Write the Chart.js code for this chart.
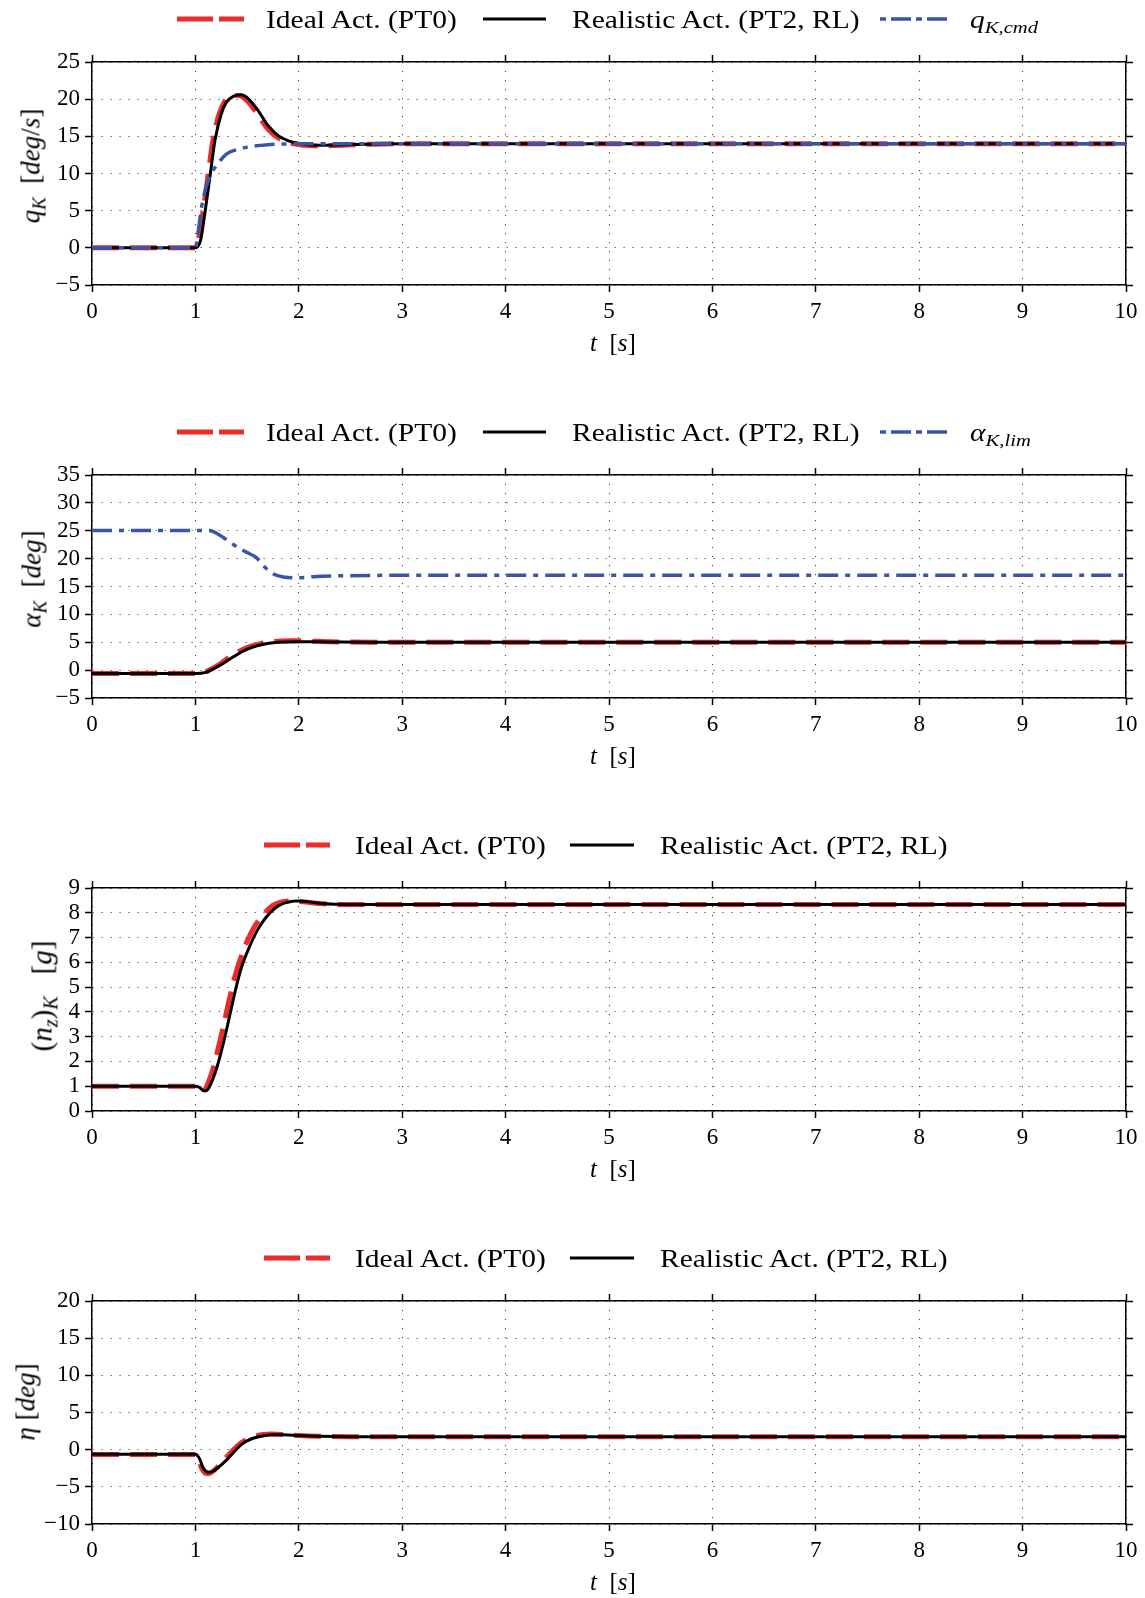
<!DOCTYPE html>
<html>
<head>
<meta charset="utf-8">
<script src="https://cdn.jsdelivr.net/npm/chart.js@4.4.1/dist/chart.umd.min.js"></script>
<style>
  body { margin: 0; background: #fff; }
  #page { position: relative; width: 1145px; height: 1598px; font-family: 'Liberation Serif', serif; color: #000; overflow: hidden; }
  canvas.panel { position: absolute; left: 0; }
  .leg { position: absolute; white-space: nowrap; font-size: 25px; line-height: 1; transform-origin: left center; transform: translateY(-50%) scaleX(1.18); }
  .sw { position: absolute; overflow: visible; }
  .ylab { position: absolute; white-space: nowrap; font-size: 27px; line-height: 1; transform: translate(-50%, -50%) rotate(-90deg); }
  .xlab { position: absolute; white-space: nowrap; font-size: 25px; line-height: 1; transform: translate(-50%, -50%); }
  sub { font-size: 0.7em; vertical-align: -0.3em; line-height: 0; }
  i { font-style: italic; }
</style>
</head>
<body>
<div id="page">
  <canvas class="panel" id="c1" width="1145" height="303" style="top:32px"></canvas>
  <canvas class="panel" id="c2" width="1145" height="303" style="top:445px"></canvas>
  <canvas class="panel" id="c3" width="1145" height="303" style="top:858px"></canvas>
  <canvas class="panel" id="c4" width="1145" height="303" style="top:1271px"></canvas>

  <!-- legends -->
  <svg class="sw" style="left:177px;top:14px" width="67" height="10"><line x1="0" y1="5" x2="67" y2="5" stroke="#ec2b2b" stroke-width="5" stroke-dasharray="36 6"/></svg>
  <div class="leg" style="left:266px;top:19px">Ideal Act. (PT0)</div>
  <svg class="sw" style="left:483px;top:14px" width="63" height="10"><line x1="0" y1="5" x2="63" y2="5" stroke="#000" stroke-width="3"/></svg>
  <div class="leg" style="left:572px;top:19px">Realistic Act. (PT2, RL)</div>
  <svg class="sw" style="left:880px;top:14px" width="67" height="10"><line x1="0" y1="5" x2="67" y2="5" stroke="#3b55a6" stroke-width="3.5" stroke-dasharray="6 5 20 5"/></svg>
  <div class="leg" style="left:970px;top:19px"><i>q</i><sub><i>K,cmd</i></sub></div>

  <svg class="sw" style="left:177px;top:427px" width="67" height="10"><line x1="0" y1="5" x2="67" y2="5" stroke="#ec2b2b" stroke-width="5" stroke-dasharray="36 6"/></svg>
  <div class="leg" style="left:266px;top:432px">Ideal Act. (PT0)</div>
  <svg class="sw" style="left:483px;top:427px" width="63" height="10"><line x1="0" y1="5" x2="63" y2="5" stroke="#000" stroke-width="3"/></svg>
  <div class="leg" style="left:572px;top:432px">Realistic Act. (PT2, RL)</div>
  <svg class="sw" style="left:880px;top:427px" width="67" height="10"><line x1="0" y1="5" x2="67" y2="5" stroke="#3b55a6" stroke-width="3.5" stroke-dasharray="6 5 20 5"/></svg>
  <div class="leg" style="left:970px;top:432px"><i>α</i><sub><i>K,lim</i></sub></div>

  <svg class="sw" style="left:264px;top:840px" width="66" height="10"><line x1="0" y1="5" x2="66" y2="5" stroke="#ec2b2b" stroke-width="5" stroke-dasharray="36 6"/></svg>
  <div class="leg" style="left:355px;top:845px">Ideal Act. (PT0)</div>
  <svg class="sw" style="left:570px;top:840px" width="64" height="10"><line x1="0" y1="5" x2="64" y2="5" stroke="#000" stroke-width="3"/></svg>
  <div class="leg" style="left:660px;top:845px">Realistic Act. (PT2, RL)</div>

  <svg class="sw" style="left:264px;top:1253px" width="66" height="10"><line x1="0" y1="5" x2="66" y2="5" stroke="#ec2b2b" stroke-width="5" stroke-dasharray="36 6"/></svg>
  <div class="leg" style="left:355px;top:1258px">Ideal Act. (PT0)</div>
  <svg class="sw" style="left:570px;top:1253px" width="64" height="10"><line x1="0" y1="5" x2="64" y2="5" stroke="#000" stroke-width="3"/></svg>
  <div class="leg" style="left:660px;top:1258px">Realistic Act. (PT2, RL)</div>

  <!-- axis titles -->
  <div class="ylab" style="left:31px;top:166px"><i>q</i><sub><i>K</i></sub>&nbsp;&nbsp;[<i>deg</i>/<i>s</i>]</div>
  <div class="ylab" style="left:32px;top:579px"><i>α</i><sub><i>K</i></sub>&nbsp;&nbsp;[<i>deg</i>]</div>
  <div class="ylab" style="left:42px;top:996px;font-size:29px">(<i>n</i><sub><i>z</i></sub>)<sub><i>K</i></sub>&nbsp;&nbsp;&nbsp;[<i>g</i>]</div>
  <div class="ylab" style="left:26px;top:1402px"><i>η</i>&nbsp;[<i>deg</i>]</div>

  <div class="xlab" style="left:613px;top:342px"><i>t</i>&nbsp;&nbsp;[<i>s</i>]</div>
  <div class="xlab" style="left:613px;top:755px"><i>t</i>&nbsp;&nbsp;[<i>s</i>]</div>
  <div class="xlab" style="left:613px;top:1168px"><i>t</i>&nbsp;&nbsp;[<i>s</i>]</div>
  <div class="xlab" style="left:613px;top:1581px"><i>t</i>&nbsp;&nbsp;[<i>s</i>]</div>
</div>

<script>
// time axis
const tRange = [0, 10, 1];

// panel 1: q_K [deg/s]
const qRange = [-5, 25, 5];
const tQIdeal = [0, 1.0, 1.03, 1.07, 1.12, 1.17, 1.23, 1.28, 1.35, 1.42, 1.5, 1.6, 1.7, 1.8, 1.9, 2.0, 2.1, 2.2, 2.4, 2.7, 3.0, 10];
const qIdeal  = [0, 0, 1.2, 4.5, 9.5, 14.5, 18.0, 19.6, 20.4, 20.5, 19.8, 18.0, 16.0, 14.8, 14.2, 13.9, 13.75, 13.7, 13.8, 13.95, 14.0, 14.0];
const tQReal  = [0, 1.0, 1.05, 1.09, 1.14, 1.19, 1.25, 1.3, 1.37, 1.44, 1.5, 1.6, 1.7, 1.8, 1.9, 2.0, 2.1, 2.2, 2.4, 2.7, 3.0, 10];
const qReal   = [0, 0, 1.0, 4.5, 9.5, 14.5, 18.0, 19.6, 20.4, 20.6, 20.2, 18.6, 16.5, 15.1, 14.4, 14.05, 13.85, 13.8, 13.85, 13.95, 14.0, 14.0];
const tQCmd   = [0, 1.0, 1.03, 1.06, 1.1, 1.15, 1.2, 1.3, 1.4, 1.5, 1.6, 1.7, 1.85, 2.0, 10];
const qCmd    = [0, 0, 2.5, 5.5, 8.0, 9.9, 11.0, 12.6, 13.2, 13.55, 13.75, 13.88, 13.97, 14.0, 14.0];

// panel 2: alpha_K [deg]
const aRange = [-5, 35, 5];
const tAIdeal = [0, 1.0, 1.08, 1.15, 1.23, 1.33, 1.43, 1.53, 1.63, 1.75, 1.9, 2.0, 2.3, 2.7, 10];
const aIdeal  = [-0.6, -0.6, -0.45, 0.15, 1.0, 2.35, 3.45, 4.25, 4.75, 5.1, 5.25, 5.25, 5.1, 5.0, 5.0];
const tAReal  = [0, 1.0, 1.1, 1.17, 1.25, 1.36, 1.45, 1.55, 1.65, 1.75, 1.85, 2.0, 2.3, 2.7, 10];
const aReal   = [-0.6, -0.6, -0.4, 0.2, 1.0, 2.3, 3.3, 4.1, 4.6, 4.9, 5.05, 5.1, 5.05, 5.0, 5.0];
const tALim   = [0, 1.14, 1.2, 1.27, 1.33, 1.43, 1.51, 1.58, 1.63, 1.67, 1.75, 1.85, 1.98, 2.17, 2.5, 3.0, 10];
const aLim    = [25.05, 25.05, 24.6, 23.8, 23.0, 21.8, 21.0, 20.3, 19.4, 18.5, 17.3, 16.7, 16.55, 16.8, 16.95, 17.0, 17.0];

// panel 3: (n_z)_K [g]
const nRange = [0, 9, 1];
const tNIdeal = [0, 1.0, 1.03, 1.06, 1.09, 1.13, 1.18, 1.23, 1.28, 1.33, 1.38, 1.44, 1.5, 1.58, 1.66, 1.75, 1.85, 1.95, 2.05, 2.2, 2.35, 2.6, 10];
const nIdeal  = [1.0, 1.0, 0.92, 0.8, 0.85, 1.2, 1.85, 2.7, 3.6, 4.55, 5.4, 6.2, 6.85, 7.5, 7.95, 8.3, 8.45, 8.48, 8.44, 8.37, 8.34, 8.33, 8.33];
const tNReal  = [0, 1.0, 1.04, 1.08, 1.11, 1.15, 1.2, 1.25, 1.3, 1.35, 1.4, 1.45, 1.52, 1.6, 1.68, 1.76, 1.85, 1.95, 2.0, 2.1, 2.2, 2.35, 2.6, 10];
const nReal   = [1.0, 1.0, 0.95, 0.82, 0.83, 1.1, 1.65, 2.4, 3.26, 4.2, 5.1, 5.85, 6.6, 7.3, 7.8, 8.15, 8.38, 8.47, 8.48, 8.44, 8.38, 8.34, 8.33, 8.33];

// panel 4: eta [deg]
const eRange = [-10, 20, 5];
const tEIdeal = [0, 1.0, 1.03, 1.06, 1.09, 1.12, 1.16, 1.21, 1.28, 1.36, 1.44, 1.54, 1.64, 1.74, 1.85, 2.0, 2.2, 2.5, 10];
const eIdeal  = [-0.65, -0.65, -1.4, -2.5, -3.1, -3.25, -3.0, -2.4, -1.3, -0.1, 0.9, 1.65, 2.0, 2.1, 2.05, 1.9, 1.8, 1.75, 1.75];
const tEReal  = [0, 1.0, 1.04, 1.07, 1.1, 1.13, 1.17, 1.22, 1.3, 1.38, 1.45, 1.55, 1.65, 1.75, 1.85, 2.0, 2.2, 2.5, 10];
const eReal   = [-0.6, -0.6, -1.2, -2.3, -2.9, -3.05, -2.9, -2.4, -1.4, -0.2, 0.75, 1.5, 1.85, 2.0, 2.0, 1.9, 1.8, 1.75, 1.75];

const RED = '#ec2b2b';
const BLACK = '#000000';
const BLUE = '#3b55a6';

function series(xs, ys, color, width, dash, order) {
    return {
        data: xs.map((x, i) => ({ x: x, y: ys[i] })),
        borderColor: color,
        borderWidth: width,
        borderDash: dash,
        borderCapStyle: 'butt',
        cubicInterpolationMode: 'monotone',
        pointRadius: 0,
        fill: false,
        order: order
    };
}

const tickFont = { family: 'Liberation Serif', size: 23 };
const minus = v => String(v).replace('-', '\u2212');

function scales(yr) {
    const grid = { color: '#444', lineWidth: 1, tickLength: 7, tickWidth: 1.5, tickColor: '#000' };
    const border = { color: '#000', width: 1.5, dash: [1.2, 7.8] };
    return {
        x: {
            type: 'linear', position: 'bottom', min: tRange[0], max: tRange[1],
            grid: grid, border: border,
            ticks: { stepSize: tRange[2], font: tickFont, color: '#000', padding: 6, autoSkip: false, maxRotation: 0, callback: minus },
            afterFit: s => { s.height = 50; }
        },
        x2: {
            type: 'linear', position: 'top', min: tRange[0], max: tRange[1],
            grid: { ...grid, drawOnChartArea: false }, border: border,
            ticks: { stepSize: tRange[2], display: false },
            afterFit: s => { s.height = 7; }
        },
        y: {
            type: 'linear', position: 'left', min: yr[0], max: yr[1],
            grid: grid, border: border,
            ticks: { stepSize: yr[2], font: tickFont, color: '#000', padding: 5, autoSkip: false, callback: minus },
            afterFit: s => { s.width = 92; }
        },
        y2: {
            type: 'linear', position: 'right', min: yr[0], max: yr[1],
            grid: { ...grid, drawOnChartArea: false }, border: border,
            ticks: { stepSize: yr[2], display: false },
            afterFit: s => { s.width = 7; }
        }
    };
}

function panel(id, yr, datasets) {
    const ctx = document.getElementById(id).getContext('2d');
    return new Chart(ctx, {
        type: 'line',
        data: { datasets: datasets },
        options: {
            responsive: false,
            animation: false,
            layout: { padding: { top: 23, right: 12, bottom: 0, left: 0 } },
            plugins: { legend: { display: false }, tooltip: { enabled: false } },
            scales: scales(yr)
        }
    });
}

panel('c1', qRange, [
    series(tQCmd, qCmd, BLUE, 3.5, [20, 7, 5, 7], 0),
    series(tQReal, qReal, BLACK, 3, [], 1),
    series(tQIdeal, qIdeal, RED, 5, [27, 11], 2)
]);
panel('c2', aRange, [
    series(tALim, aLim, BLUE, 3.5, [20, 7, 5, 7], 0),
    series(tAReal, aReal, BLACK, 3, [], 1),
    series(tAIdeal, aIdeal, RED, 5, [27, 11], 2)
]);
panel('c3', nRange, [
    series(tNReal, nReal, BLACK, 3, [], 1),
    series(tNIdeal, nIdeal, RED, 5, [27, 11], 2)
]);
panel('c4', eRange, [
    series(tEReal, eReal, BLACK, 3, [], 1),
    series(tEIdeal, eIdeal, RED, 5, [27, 11], 2)
]);
</script>
</body>
</html>
